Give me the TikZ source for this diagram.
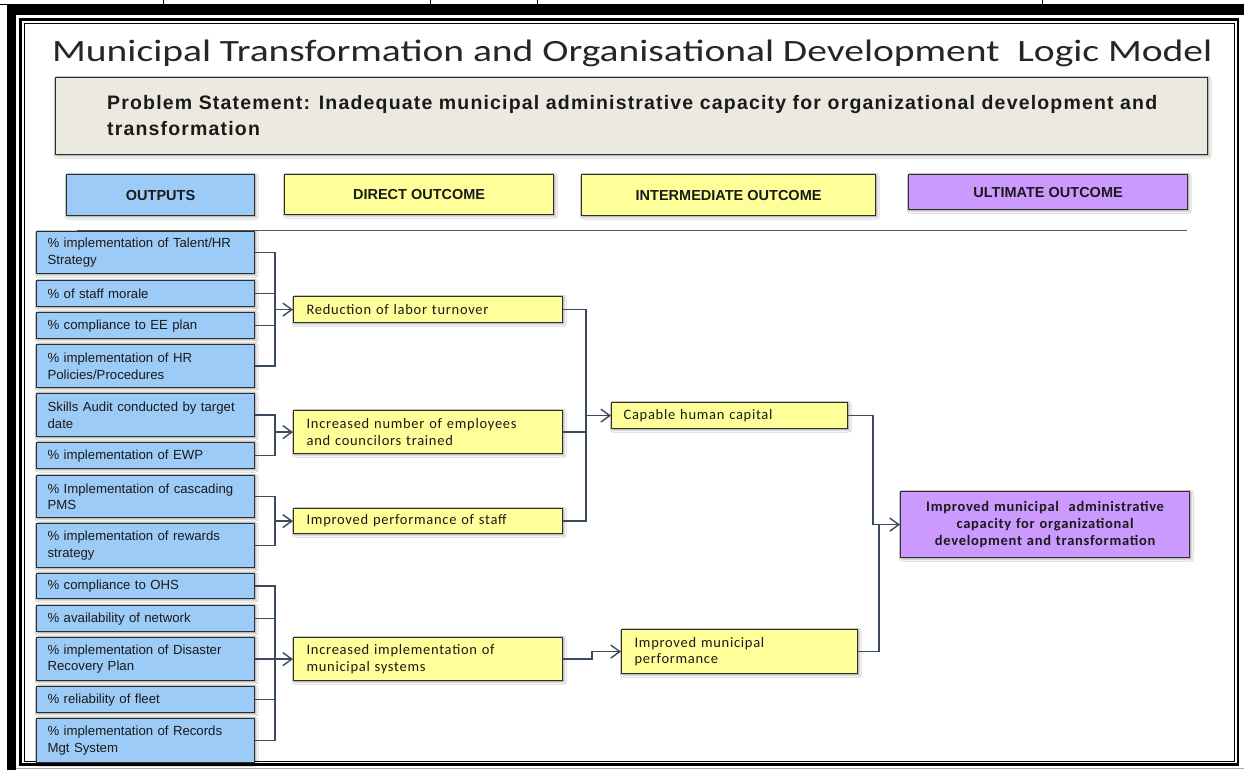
\documentclass[tikz,border=0pt]{standalone}
\usepackage{fontspec}
\setmainfont{Liberation Sans}
\newfontfamily\calfont{Carlito}
\newfontfamily\calfontsp[LetterSpace=5]{Carlito}
\newfontfamily\titlefont[FakeStretch=1.275]{Carlito}
\newfontfamily\probfont[LetterSpace=6]{Liberation Sans}
\usetikzlibrary{arrows.meta,shadows.blur}
\definecolor{outblue}{HTML}{9CCBF8}
\definecolor{diryellow}{HTML}{FFFF99}
\definecolor{ultpurple}{HTML}{CC99FF}
\definecolor{probbeige}{HTML}{ECEAE0}
\definecolor{boxline}{HTML}{2E2E2E}
\definecolor{connc}{HTML}{3B4A5C}
\definecolor{txt}{HTML}{1A1A1A}
\tikzset{
  box/.style={draw=boxline, line width=1.2pt, anchor=north west, inner ysep=0pt,
    blur shadow={shadow xshift=1.2pt, shadow yshift=-1.2pt, shadow blur radius=2.2pt, shadow opacity=45},
    text=txt},
  outbox/.style={box, fill=outblue, minimum width=218pt, text width=196pt, inner xsep=11pt,
    align=left, font=\fontsize{13.2}{16.6}\selectfont},
  dirbox/.style={box, fill=diryellow, minimum width=269pt, text width=243pt, inner xsep=13pt,
    align=left, font=\calfontsp\fontsize{14.5}{16.7}\selectfont},
  headbox/.style={box, align=center, font=\bfseries\fontsize{14.5}{16}\selectfont},
  conn/.style={draw=connc, line width=1.3pt},
  arr/.style={conn, -{Straight Barb[length=9pt,width=13pt,line width=1.4pt]}},
}
\begin{document}
\begin{tikzpicture}[x=1pt,y=-1pt]
\useasboundingbox (0,0) rectangle (1244,770);
\fill[white] (0,0) rectangle (1244,770);
% page frame remnants
\draw[line width=0.8pt] (0,4.6) -- (1244,4.6);
\foreach \xx in {163,430,537,1042} \draw[line width=0.8pt] (\xx,0) -- (\xx,5);
\fill[black] (7,5) rectangle (1244,15);
\fill[black] (7,5) rectangle (16,770);
\draw[black!35, line width=0.8pt] (16,768) -- (1244,768);
\draw[black, line width=2.6pt] (20.5,19.5) rectangle (1238,764.5);
\draw[black, line width=0.8pt] (24,23.5) rectangle (1234,761);

% title
\node[anchor=base west, inner sep=0pt, font=\titlefont\fontsize{31}{34}\selectfont, text=black!85] (title) at (52,62)
  {Municipal Transformation and Organisational Development\ \ Logic Model};

% problem statement
\node[box, fill=probbeige, minimum width=1152pt, minimum height=77pt] (ps) at (55,77) {};
\node[anchor=north west, inner sep=0pt, align=left, text=txt,
  font=\probfont\bfseries\fontsize{19.5}{26}\selectfont] (pst) at (107,95)
  {Problem Statement: Inadequate municipal administrative capacity for organizational development and\\transformation};

% header boxes
\node[headbox, fill=outblue, minimum width=188pt, minimum height=41pt] (h1) at (66,174) {OUTPUTS};
\node[headbox, fill=diryellow, minimum width=269pt, minimum height=40pt] (h2) at (284,174) {DIRECT OUTCOME};
\node[headbox, fill=diryellow, minimum width=294pt, minimum height=41pt] (h3) at (581,174) {INTERMEDIATE OUTCOME};
\node[headbox, fill=ultpurple, minimum width=279pt, minimum height=35pt] (h4) at (908,174) {ULTIMATE OUTCOME};

\coordinate (rl1) at (77,230.5);
\coordinate (rl2) at (1187,230.5);
\draw[black!65, line width=1.5pt] (rl1) -- (rl2);

% outputs
\node[outbox, minimum height=42pt] (o1) at (36,231) {\% implementation of Talent/HR\\Strategy};
\node[outbox, minimum height=26pt] (o2) at (36,280) {\% of staff morale};
\node[outbox, minimum height=26pt] (o3) at (36,312) {\% compliance to EE plan};
\node[outbox, minimum height=43pt] (o4) at (36,344) {\% implementation of HR\\Policies/Procedures};
\node[outbox, minimum height=43pt] (o5) at (36,393) {Skills Audit conducted by target\\date};
\node[outbox, minimum height=26pt] (o6) at (36,442) {\% implementation of EWP};
\node[outbox, minimum height=42pt] (o7) at (36,475) {\% Implementation of cascading\\PMS};
\node[outbox, minimum height=44pt] (o8) at (36,523) {\% implementation of rewards\\strategy};
\node[outbox, minimum height=25pt] (o9) at (36,573) {\% compliance to OHS};
\node[outbox, minimum height=26pt] (o10) at (36,605) {\% availability of network};
\node[outbox, minimum height=43pt] (o11) at (36,637) {\% implementation of Disaster\\Recovery Plan};
\node[outbox, minimum height=26pt] (o12) at (36,686) {\% reliability of fleet};
\node[outbox, minimum height=44pt] (o13) at (36,718) {\% implementation of Records\\Mgt System};

% direct outcomes
\node[dirbox, minimum height=26pt] (d1) at (293,296) {Reduction of labor turnover};
\node[dirbox, minimum height=43pt] (d2) at (293,410) {Increased number of employees\\and councilors trained};
\node[dirbox, minimum height=25pt] (d3) at (293,508) {Improved performance of staff};
\node[dirbox, minimum height=43pt] (d4) at (293,637) {Increased implementation of\\municipal systems};

% intermediate outcomes
\node[dirbox, minimum width=236pt, text width=212pt, inner xsep=12pt, minimum height=26pt] (i1) at (611,402) {Capable human capital};
\node[dirbox, minimum width=236pt, text width=210pt, inner xsep=13pt, minimum height=44pt] (i2) at (621,629) {Improved municipal\\performance};

% ultimate outcome
\node[box, fill=ultpurple, minimum width=289pt, minimum height=66pt, text width=274pt, inner xsep=7.5pt,
  align=center, font=\calfontsp\bfseries\fontsize{14.5}{16.7}\selectfont] (u1) at (900,491)
  {Improved municipal\ \ administrative\\capacity for organizational\\development and transformation};

% bus coordinates
\coordinate (bA) at (275,0);
\coordinate (bB) at (586,0);
\coordinate (s1) at (592,0);
\coordinate (bC) at (873,0);
\coordinate (bD) at (879,0);

% outputs -> direct
\draw[conn] (o1.east) -| (bA |- o4.east) -- (o4.east);
\draw[conn] (o2.east) -- (o2.east -| bA);
\draw[conn] (o3.east) -- (o3.east -| bA);
\draw[arr] (d1.west -| bA) -- (d1.west);

\draw[conn] (o5.east) -| (bA |- o6.east) -- (o6.east);
\draw[arr] (d2.west -| bA) -- (d2.west);

\draw[conn] (o7.east) -| (bA |- o8.east) -- (o8.east);
\draw[arr] (d3.west -| bA) -- (d3.west);

\draw[conn] (o9.east) -| (bA |- o13.east) -- (o13.east);
\draw[conn] (o10.east) -- (o10.east -| bA);
\draw[conn] (o12.east) -- (o12.east -| bA);
\draw[arr] (o11.east) -- (d4.west);

% direct -> intermediate
\draw[conn] (d1.east) -| (bB |- d3.east) -- (d3.east);
\draw[conn] (d2.east) -- (d2.east -| bB);
\draw[arr] (i1.west -| bB) -- (i1.west);
\draw[arr] (d4.east) -| (s1 |- i2.west) -- (i2.west);

% intermediate -> ultimate
\draw[conn] (i1.east) -| (bC |- u1.west);
\draw[arr] (bC |- u1.west) -- (u1.west);
\draw[conn] (i2.east) -| (bD |- u1.west);
\end{tikzpicture}
\end{document}
